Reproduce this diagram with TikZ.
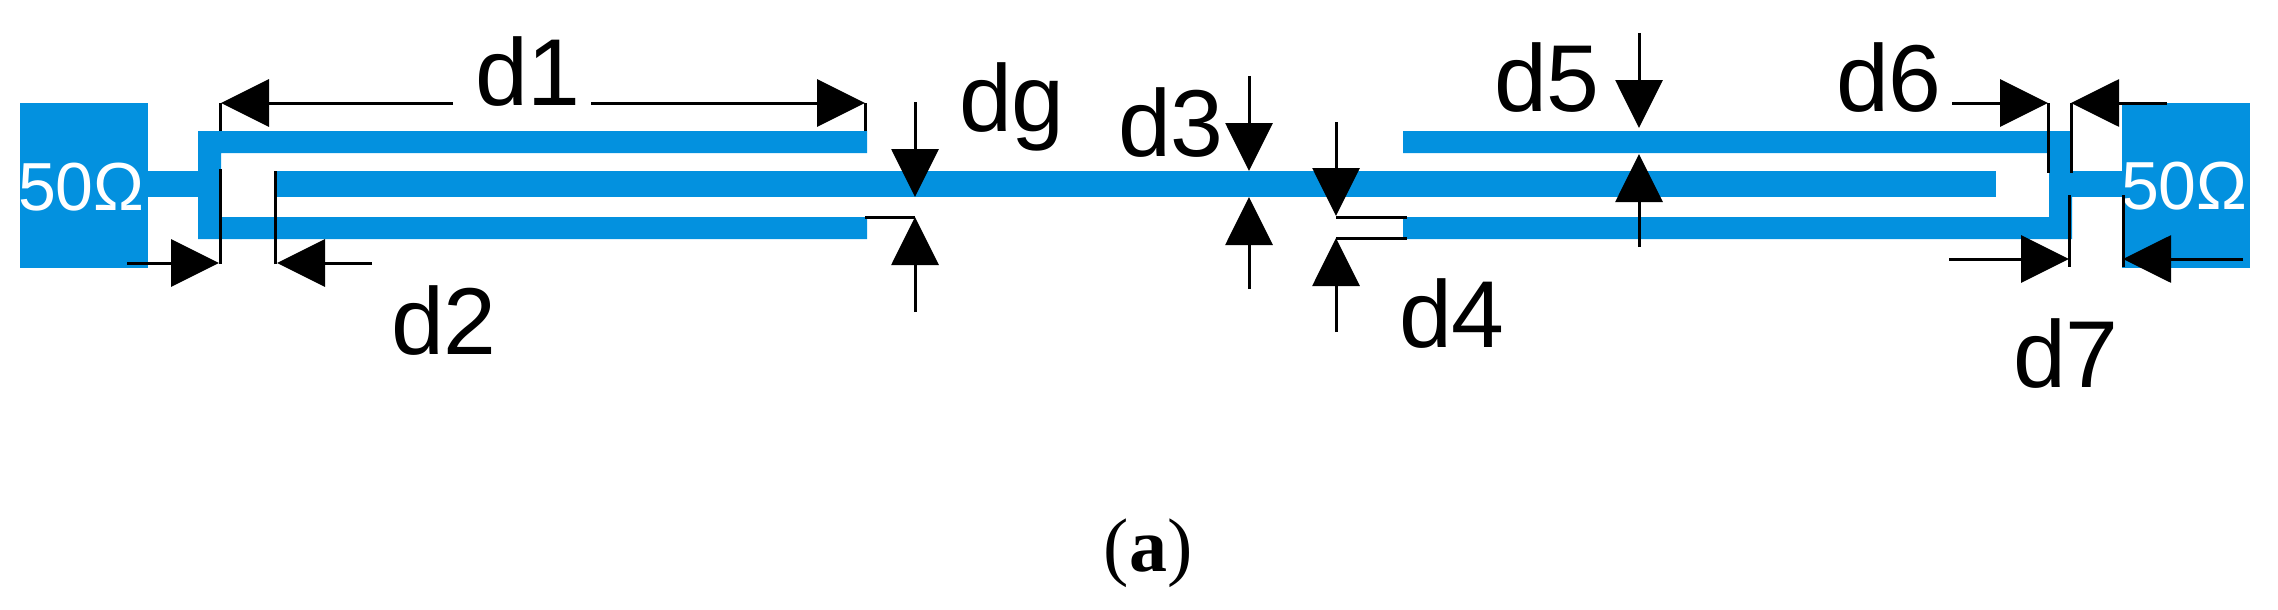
\documentclass[tikz,border=0pt]{standalone}
\usepackage{fontspec}
\setmainfont{Liberation Sans}
\newfontfamily\capfont{Liberation Serif}
\usetikzlibrary{arrows.meta}
\definecolor{strip}{HTML}{0391DF}
\tikzset{
  x=1pt,y=-1pt,
  stripfill/.style={fill=strip,draw=none},
  dimtext/.style={anchor=base west,inner sep=0pt,outer sep=0pt,font=\fontsize{95}{95}\selectfont},
  ohm/.style={anchor=base west,inner sep=0pt,outer sep=0pt,text=white,font=\fontsize{68}{68}\selectfont},
  captext/.style={anchor=base,inner sep=0pt,outer sep=0pt,font=\capfont\fontsize{76}{76}\selectfont},
  extline/.style={draw=black,line width=3pt},
  dimarrow/.style={draw=black,line width=3pt,-{Triangle[length=48pt,width=47pt]}},
}
\begin{document}
\begin{tikzpicture}
\useasboundingbox (0,0) rectangle (2278,610);
% blocks and strips
\fill[stripfill] (20,103) rectangle (148,268);
\fill[stripfill] (2122,103) rectangle (2250,268);
\fill[stripfill] (148,171) rectangle (198,197);
\fill[stripfill] (2072,171) rectangle (2122,197);
\fill[stripfill] (867,131) -- (198,131) -- (198,239) -- (867,239) -- (867,217) -- (221,217) -- (221,153) -- (867,153) -- cycle;
\fill[stripfill] (1403,131) -- (2072,131) -- (2072,239) -- (1403,239) -- (1403,217) -- (2049,217) -- (2049,153) -- (1403,153) -- cycle;
\fill[stripfill] (277,171) rectangle (1996,197);
% labels
\node[ohm] (pl) at (18,210) {50Ω};
\node[ohm] (pr) at (2121,209) {50Ω};
\node[dimtext] (d1) at (475,105) {d1};
\node[dimtext] (d2) at (391,354) {d2};
\node[dimtext] (dg) at (959,131) {dg};
\node[dimtext] (d3) at (1118,156) {d3};
\node[dimtext] (d4) at (1399,347) {d4};
\node[dimtext] (d5) at (1494,111) {d5};
\node[dimtext] (d6) at (1836,111) {d6};
\node[dimtext] (d7) at (2013,387) {d7};
\node[captext] (cap) at (1148,571) {({\bfseries a})};
% d1
\coordinate (a1) at (221,103); \coordinate (a1s) at (453,103);
\coordinate (a2) at (865,103); \coordinate (a2s) at (591,103);
\coordinate (a1e) at (220,131); \coordinate (a2e) at (865,131);
\draw[dimarrow] (a1s) -- (a1);
\draw[dimarrow] (a2s) -- (a2);
\draw[extline] (220,103) -- (a1e);
\draw[extline] (865,103) -- (a2e);
% d2
\coordinate (b1) at (219,263); \coordinate (b1s) at (127,263);
\coordinate (b2) at (277,263); \coordinate (b2s) at (372,263);
\coordinate (b1e) at (220,169); \coordinate (b2e) at (275,171);
\draw[dimarrow] (b1s) -- (b1);
\draw[dimarrow] (b2s) -- (b2);
\draw[extline] (220,264) -- (b1e);
\draw[extline] (275,264) -- (b2e);
% dg
\coordinate (g1) at (915,197); \coordinate (g1s) at (915,102);
\coordinate (g2) at (915,217); \coordinate (g2s) at (915,312);
\coordinate (g2e) at (865,217);
\draw[dimarrow] (g1s) -- (g1);
\draw[dimarrow] (g2s) -- (g2);
\draw[extline] (g2) -- (g2e);
% d3
\coordinate (t1) at (1249,171); \coordinate (t1s) at (1249,76);
\coordinate (t2) at (1249,197); \coordinate (t2s) at (1249,289);
\draw[dimarrow] (t1s) -- (t1);
\draw[dimarrow] (t2s) -- (t2);
% d4
\coordinate (f1) at (1336,216); \coordinate (f1s) at (1336,122);
\coordinate (f2) at (1336,238); \coordinate (f2s) at (1336,332);
\coordinate (f1e) at (1407,217); \coordinate (f2e) at (1407,238);
\draw[dimarrow] (f1s) -- (f1);
\draw[dimarrow] (f2s) -- (f2);
\draw[extline] (1336,217) -- (f1e);
\draw[extline] (f2) -- (f2e);
% d5
\coordinate (v1) at (1639,128); \coordinate (v1s) at (1639,33);
\coordinate (v2) at (1639,154); \coordinate (v2s) at (1639,247);
\draw[dimarrow] (v1s) -- (v1);
\draw[dimarrow] (v2s) -- (v2);
% d6
\coordinate (s1) at (2048,103); \coordinate (s1s) at (1952,103);
\coordinate (s2) at (2071,103); \coordinate (s2s) at (2167,103);
\coordinate (s1e) at (2048,173); \coordinate (s2e) at (2071,173);
\draw[dimarrow] (s1s) -- (s1);
\draw[dimarrow] (s2s) -- (s2);
\draw[extline] (s1) -- (s1e);
\draw[extline] (s2) -- (s2e);
% d7
\coordinate (w1) at (2069,259); \coordinate (w1s) at (1949,259);
\coordinate (w2) at (2123,259); \coordinate (w2s) at (2243,259);
\draw[dimarrow] (w1s) -- (w1);
\draw[dimarrow] (w2s) -- (w2);
\draw[extline] (2069,195) -- (2069,267);
\draw[extline] (2123,195) -- (2123,267);
\end{tikzpicture}
\end{document}
